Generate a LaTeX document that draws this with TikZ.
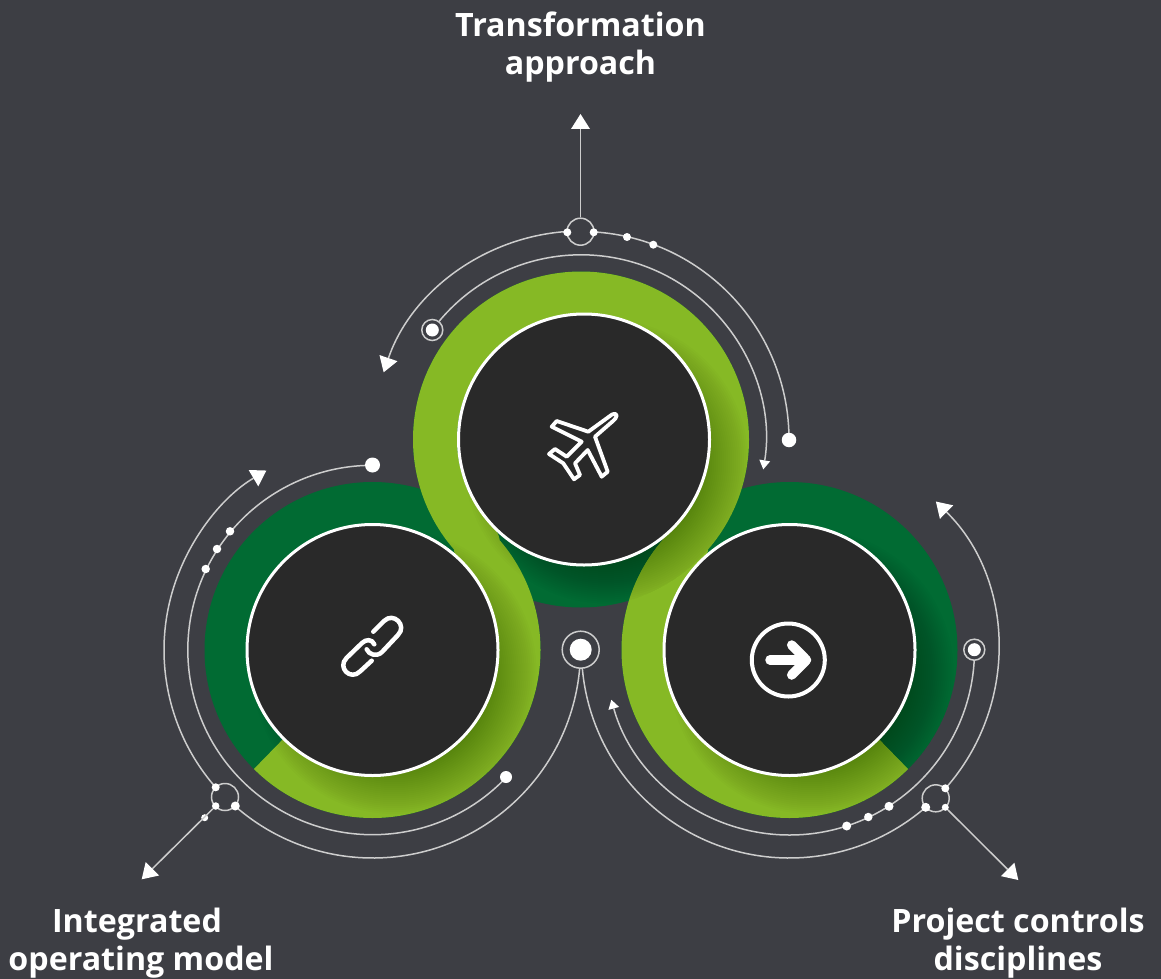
\documentclass[tikz,border=0pt]{standalone}
\usepackage{fontspec}
\setmainfont{Open Sans}
\usetikzlibrary{arrows.meta,calc}
\definecolor{bgc}{HTML}{3D3E44}
\definecolor{lightg}{HTML}{86B925}
\definecolor{darkg}{HTML}{016B33}
\definecolor{discc}{HTML}{292929}
\definecolor{linec}{HTML}{CDCDCD}
\tikzset{
  wire/.style={draw=linec,line width=1.5pt},
  bigtip/.style={-{Triangle[length=15pt,width=19pt,color=white,fill=white,line width=0pt]}},
  smalltip/.style={-{Triangle[length=9pt,width=11pt,color=white,fill=white,line width=0pt]}},
  ringg/.style={fill=darkg,draw=none},
  bandg/.style={draw=lightg,line width=44pt,line join=round},
  discn/.style={circle,fill=discc,draw=white,line width=3pt,minimum size=251pt,inner sep=0pt},
  dotn/.style={circle,fill=white,draw=none,inner sep=0pt,minimum size=#1},
  hubn/.style={circle,fill=bgc,draw=linec,line width=1.5pt,inner sep=0pt,minimum size=#1},
  hollown/.style={circle,draw=linec,line width=1.5pt,inner sep=0pt,minimum size=27pt},
  icon/.style={draw=white,line cap=round,line join=round},
  lab/.style={text=white,font=\fontsize{32.2}{38}\selectfont\bfseries,align=center,inner sep=0pt,anchor=center},
}
\newcommand{\arcwire}[5][]{\draw[wire,#1] ([shift={(#4:#3)}]#2) arc[start angle=#4,end angle=#5,radius=#3];}
\newcommand{\discshadow}[2]{%
  \begin{scope}
    \clip (#1) circle[radius=168];
    \foreach \r in {96,98,...,142}{\fill[black,fill opacity=0.0105] ($(#2)+(22,-22)$) circle[radius=\r];}
  \end{scope}}
\begin{document}
\begin{tikzpicture}[x=1pt,y=1pt]
\fill[bgc] (0,0) rectangle (1161,-979);
\useasboundingbox (0,0) rectangle (1161,-979);
\coordinate (cT) at (581,-439.5);
\coordinate (cL) at (372.5,-650);
\coordinate (cR) at (789.5,-650);
\coordinate (dT) at (584,-439.5);
% rings
\fill[ringg] (cL) circle[radius=168];
\fill[ringg] (cR) circle[radius=168];
\fill[ringg] (cT) circle[radius=168];
\draw[bandg] ([shift={(225:146)}]cL) arc[start angle=225,end angle=405,radius=146]
  -- ([shift={(225:146)}]cT) arc[start angle=225,end angle=-45,radius=146]
  -- ([shift={(135:146)}]cR) arc[start angle=135,end angle=315,radius=146];
\discshadow{cL}{cL}
\discshadow{cR}{cR}
\discshadow{cT}{dT}
% discs
\node[discn] (discT) at (dT) {};
\node[discn] (discL) at (cL) {};
\node[discn] (discR) at (cR) {};
% top wires
\arcwire[]{cT}{208}{0}{86.5}
\arcwire[bigtip]{cT}{208.5}{93.5}{161.2}
\arcwire[smalltip]{cT}{184.7}{143.6}{-9.3}
% left wires
\arcwire[]{cL}{208}{-5.2}{-131.4}
\arcwire[bigtip]{cL}{208.5}{-138.8}{-239.4}
\arcwire[]{cL}{184.7}{-43.6}{-270}
% right wires
\arcwire[]{cR}{208}{185.2}{310.9}
\arcwire[bigtip]{cR}{208.5}{-41.6}{45.4}
\arcwire[smalltip]{cR}{185}{-3}{-164.4}
% hubs top
\node[hollown] (hubT) at (580.5,-231.7) {};
\node[dotn=8pt] (t1) at (567.3,-232.3) {};
\node[dotn=8pt] (t2) at (593.7,-232.3) {};
\node[dotn=8pt] (t3) at (627,-237) {};
\node[dotn=8pt] (t4) at (653.3,-244.7) {};
\node[dotn=14.5pt] (endT) at (789,-440) {};
\node[hubn=21pt] (ringT) at (432.3,-330) {};
\node[dotn=13pt] (ringTd) at (432.3,-330) {};
\coordinate (tipT) at (580.5,-114);
\draw[wire,bigtip] (hubT) -- (tipT);
% hubs left
\node[hollown] (hubL) at (225,-797) {};
\node[dotn=8pt] (l1) at (215.7,-787.3) {};
\node[dotn=7.5pt] (l2) at (215.7,-806) {};
\node[dotn=9pt] (l3) at (235.3,-806) {};
\node[dotn=7pt] (l4) at (204.7,-817.7) {};
\node[dotn=8.5pt] (l5) at (205.7,-569) {};
\node[dotn=8.5pt] (l6) at (217,-549) {};
\node[dotn=8.5pt] (l7) at (230,-531.3) {};
\node[dotn=15pt] (endL) at (372.5,-465) {};
\node[dotn=12pt] (endL2) at (506,-777) {};
\coordinate (tipL) at (141.7,-879.3);
\draw[wire,bigtip] (l2) -- (tipL);
% hubs right
\node[hollown] (hubR) at (935.7,-798.3) {};
\node[dotn=8pt] (r1) at (945.3,-788.3) {};
\node[dotn=7pt] (r2) at (945.3,-807.3) {};
\node[dotn=9pt] (r3) at (925.7,-807.3) {};
\node[dotn=9pt] (r4) at (889,-806.3) {};
\node[dotn=8.5pt] (r5) at (868.3,-817) {};
\node[dotn=9pt] (r6) at (846.7,-826) {};
\node[hubn=21pt] (ringR) at (974.3,-649.7) {};
\node[dotn=13pt] (ringRd) at (974.3,-649.7) {};
\coordinate (tipR) at (1018.3,-880);
\draw[wire,bigtip] (r2) -- (tipR);
% centre
\node[hubn=37pt] (hubC) at (580.7,-649.7) {};
\node[dotn=22pt] (hubCd) at (580.7,-649.7) {};
% plane icon
\draw[icon,line width=3.8pt] (612,-414.5) -- (588.3,-431.7) -- (556.7,-421) -- (551.7,-426.7) -- (581.7,-441.7) -- (566.7,-456.7) -- (555,-449) -- (549,-454) -- (563.3,-463.3) -- (574,-479.3) -- (580,-475) -- (575,-463.3) -- (587.7,-450) -- (601.7,-476.7) -- (607.7,-471.7) -- (595,-436.7) -- (613,-421) .. controls (617,-418) and (619,-412) .. (612,-414.5) -- cycle;
% link icon
\draw[icon,line width=4.5pt] (373.3,-631.7) -- (384,-621) .. controls (393.5,-611.5) and (407.5,-625.5) .. (398,-635) -- (382,-652) .. controls (377,-657) and (369,-655) .. (366.7,-649.3);
\draw[icon,line width=4.5pt] (371.7,-660.7) -- (360,-671.5) .. controls (350.5,-681) and (337,-667.5) .. (346.5,-658) -- (362,-643) .. controls (366,-639) and (372,-639) .. (374.3,-644.3);
% arrow icon
\node[circle,draw=white,line width=4pt,inner sep=0pt,minimum size=73pt] (arrowring) at (788.3,-660) {};
\draw[icon,line width=9.5pt] (770,-660) -- (806,-660);
\draw[icon,line width=9.5pt] (791.7,-645) -- (806.5,-660) -- (791.7,-675);
% labels
\node[lab] (labT) at (580.5,-47) {Transformation\\approach};
\node[lab] (labL) at (141,-943.5) {Integrated\kern8pt\\operating model};
\node[lab] (labR) at (1018,-943.5) {Project controls\\disciplines};
\end{tikzpicture}
\end{document}
